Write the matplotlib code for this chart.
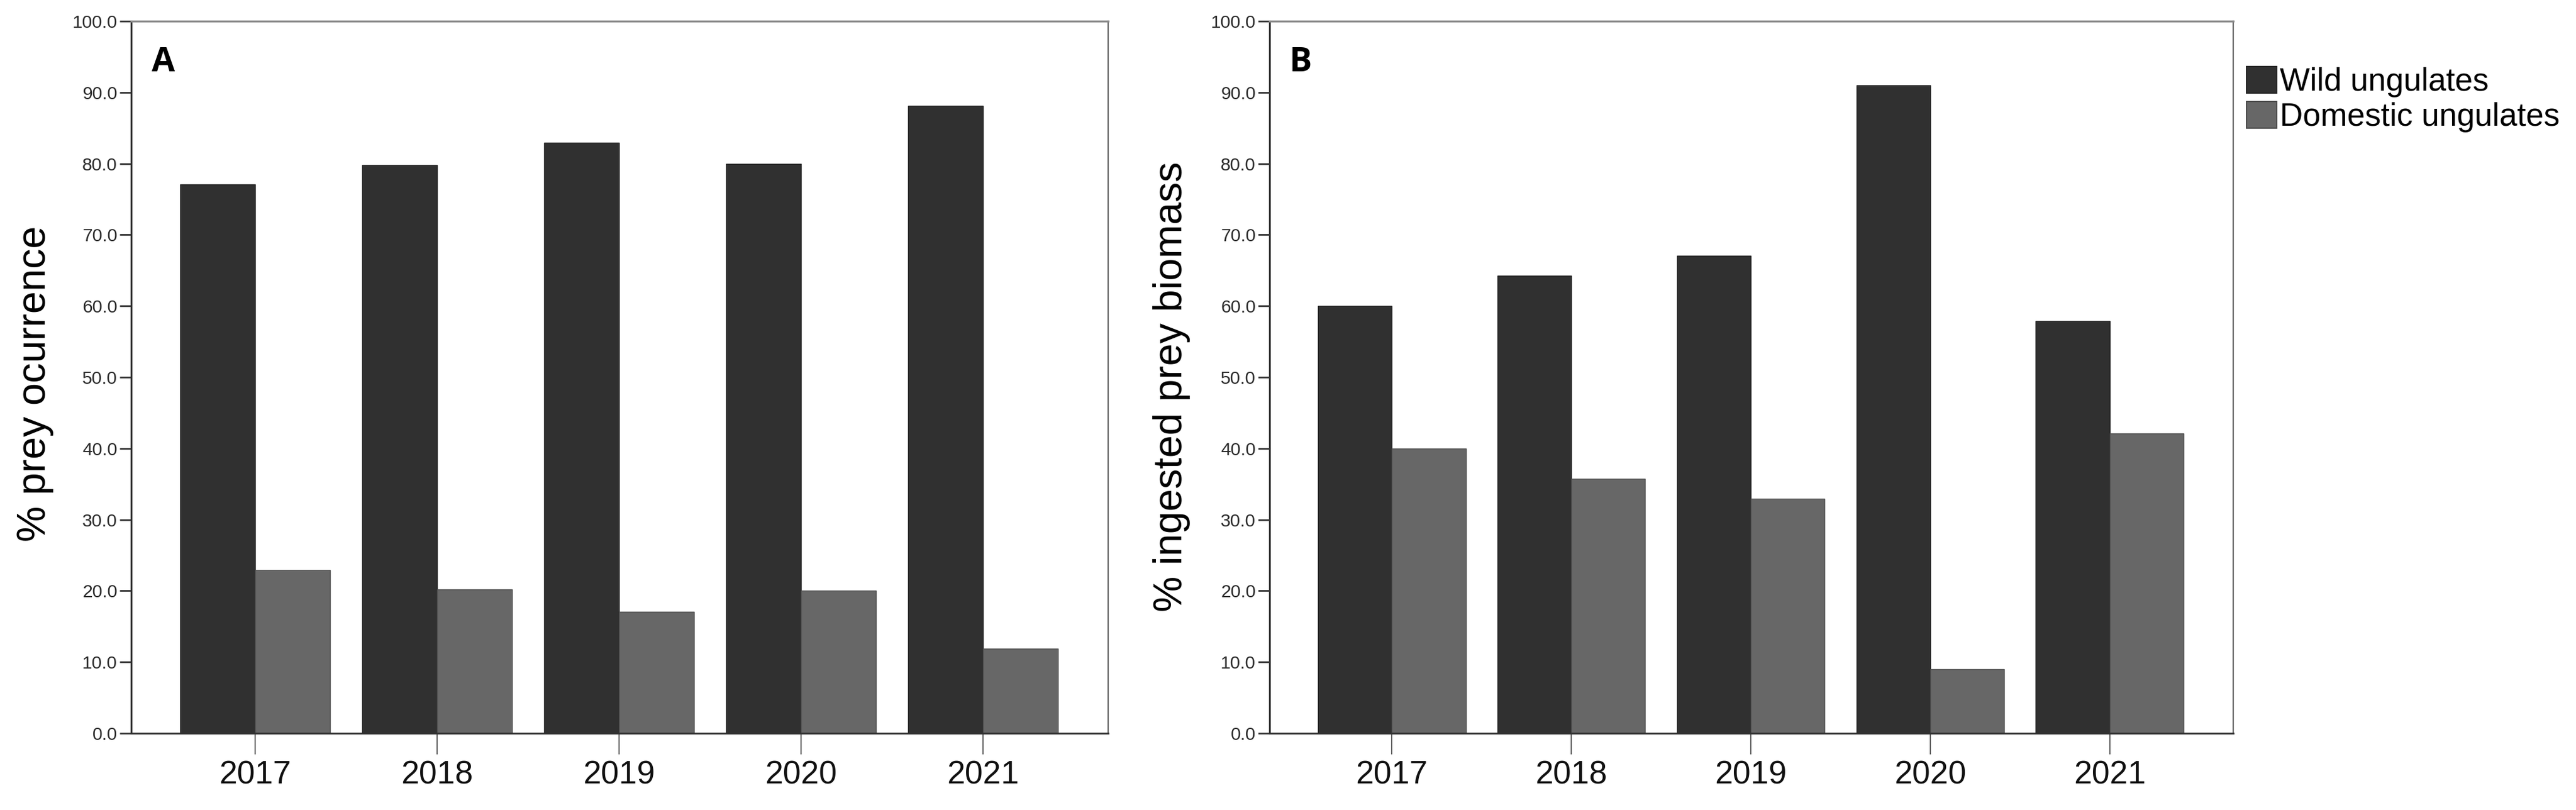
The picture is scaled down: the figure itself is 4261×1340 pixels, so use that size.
import matplotlib
matplotlib.use("Agg")
import matplotlib.pyplot as plt
from matplotlib.patches import Patch

years = ["2017", "2018", "2019", "2020", "2021"]
occ_wild = [77.1, 79.8, 82.9, 80.0, 88.1]
occ_domestic = [22.9, 20.2, 17.1, 20.0, 11.9]
bio_wild = [60.0, 64.3, 67.1, 91.0, 57.9]
bio_domestic = [40.0, 35.7, 32.9, 9.0, 42.1]
series_names = ["Wild ungulates", "Domestic ungulates"]

WILD_C = "#303030"
DOM_C = "#676767"
W, H = 4261, 1340

plt.rcParams["font.family"] = ["Liberation Sans", "DejaVu Sans"]

fig = plt.figure(figsize=(W / 100, H / 100), dpi=100)


def draw_panel(ax, wild, dom, letter):
    x = list(range(len(years)))
    bw = 0.412
    ax.bar([i - bw / 2 for i in x], wild, width=bw, color=WILD_C,
           edgecolor="#252525", linewidth=1.0)
    ax.bar([i + bw / 2 for i in x], dom, width=bw, color=DOM_C,
           edgecolor="#505050", linewidth=1.0)
    ax.set_xlim(-0.681, 4.688)
    ax.set_ylim(0, 100)
    ax.set_xticks(x)
    ax.set_xticklabels(years)
    ax.set_yticks(range(0, 101, 10))
    ax.set_yticklabels([f"{v:.1f}" for v in range(0, 101, 10)])
    ax.tick_params(axis="y", length=13.5, width=2.0, color="#333333",
                   labelsize=21.5, labelcolor="#2a2a2a", pad=3)
    ax.tick_params(axis="x", length=25, width=1.1, color="#333333",
                   labelsize=38.5, labelcolor="#111111", pad=7)
    for side in ("left", "bottom"):
        ax.spines[side].set_color("#333333")
        ax.spines[side].set_linewidth(2.2)
    ax.spines["top"].set_color("#8a8a8a")
    ax.spines["top"].set_linewidth(2.4)
    ax.spines["right"].set_color("#666666")
    ax.spines["right"].set_linewidth(1.6)
    ax.text(0.021, 0.965, letter, transform=ax.transAxes, ha="left", va="top",
            fontsize=40, fontweight="bold", family=["Open Sans", "DejaVu Sans"])


ax_a = fig.add_axes([217 / W, 1 - 1213 / H, 1616 / W, 1178 / H])
draw_panel(ax_a, occ_wild, occ_domestic, "A")
ax_b = fig.add_axes([2100 / W, 1 - 1213 / H, 1594 / W, 1178 / H])
draw_panel(ax_b, bio_wild, bio_domestic, "B")

fig.text(58 / W, 1 - 635 / H, "% prey ocurrence", rotation=90,
         ha="center", va="center", fontsize=48)
fig.text(1938 / W, 1 - 640 / H, "% ingested prey biomass", rotation=90,
         ha="center", va="center", fontsize=48)

handles = [Patch(facecolor=WILD_C, edgecolor="#252525", linewidth=1.5),
           Patch(facecolor=DOM_C, edgecolor="#4a4a4a", linewidth=1.5)]
fig.legend(handles, series_names, loc="upper left",
           bbox_to_anchor=(3716 / W, 1 - 110 / H), frameon=False,
           fontsize=38, handlelength=0.95, handleheight=0.92,
           handletextpad=0.1, labelspacing=0.12, borderpad=0,
           borderaxespad=0)

fig.savefig("out.png", dpi=100, facecolor="white")
